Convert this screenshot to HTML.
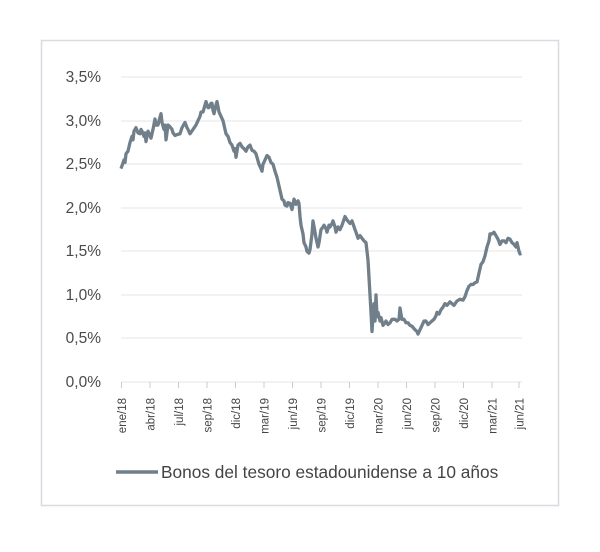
<!DOCTYPE html>
<html><head><meta charset="utf-8"><style>
body{margin:0;background:#fff;width:600px;height:547px;overflow:hidden;font-family:"Liberation Sans",sans-serif}
</style></head><body>
<svg width="600" height="547" xmlns="http://www.w3.org/2000/svg">
<rect x="41.5" y="40.5" width="517" height="465" fill="#fff" stroke="#d8dce1" stroke-width="1.5"/>
<g stroke="#e4e4e4" stroke-width="1">
<line x1="121" x2="522" y1="77" y2="77"/><line x1="121" x2="522" y1="121" y2="121"/>
<line x1="121" x2="522" y1="164" y2="164"/><line x1="121" x2="522" y1="208" y2="208"/>
<line x1="121" x2="522" y1="251" y2="251"/><line x1="121" x2="522" y1="295" y2="295"/>
<line x1="121" x2="522" y1="338" y2="338"/><line x1="121" x2="522" y1="382" y2="382"/>
</g>
<g fill="#4a4a4a" font-size="15.5" text-anchor="end">
<text x="101" y="82">3,5%</text><text x="101" y="126">3,0%</text><text x="101" y="169">2,5%</text>
<text x="101" y="213">2,0%</text><text x="101" y="256">1,5%</text><text x="101" y="300">1,0%</text>
<text x="101" y="343">0,5%</text><text x="101" y="387">0,0%</text>
</g>
<g stroke="#ccc" stroke-width="1">
<line x1="121.5" x2="121.5" y1="382" y2="388"/><line x1="150" x2="150" y1="382" y2="388"/>
<line x1="178.5" x2="178.5" y1="382" y2="388"/><line x1="207" x2="207" y1="382" y2="388"/>
<line x1="235.5" x2="235.5" y1="382" y2="388"/><line x1="264" x2="264" y1="382" y2="388"/>
<line x1="292.5" x2="292.5" y1="382" y2="388"/><line x1="321" x2="321" y1="382" y2="388"/>
<line x1="349.5" x2="349.5" y1="382" y2="388"/><line x1="378" x2="378" y1="382" y2="388"/>
<line x1="406.5" x2="406.5" y1="382" y2="388"/><line x1="435" x2="435" y1="382" y2="388"/>
<line x1="463.5" x2="463.5" y1="382" y2="388"/><line x1="492" x2="492" y1="382" y2="388"/>
<line x1="519" x2="519" y1="382" y2="388"/>
</g>
<g fill="#444" font-size="11.5" text-anchor="end">
<text transform="translate(126,398) rotate(-90)">ene/18</text>
<text transform="translate(154.5,398) rotate(-90)">abr/18</text>
<text transform="translate(183,398) rotate(-90)">jul/18</text>
<text transform="translate(211.5,398) rotate(-90)">sep/18</text>
<text transform="translate(240,398) rotate(-90)">dic/18</text>
<text transform="translate(268.5,398) rotate(-90)">mar/19</text>
<text transform="translate(297,398) rotate(-90)">jun/19</text>
<text transform="translate(325.5,398) rotate(-90)">sep/19</text>
<text transform="translate(354,398) rotate(-90)">dic/19</text>
<text transform="translate(382.5,398) rotate(-90)">mar/20</text>
<text transform="translate(411,398) rotate(-90)">jun/20</text>
<text transform="translate(439.5,398) rotate(-90)">sep/20</text>
<text transform="translate(468,398) rotate(-90)">dic/20</text>
<text transform="translate(496.5,398) rotate(-90)">mar/21</text>
<text transform="translate(523.5,398) rotate(-90)">jun/21</text>
</g>
<g transform="matrix(1,0,0,-87.1,0,382)">
<polyline fill="none" stroke="#707f8a" stroke-width="3.3" stroke-linejoin="round" vector-effect="non-scaling-stroke" points="121,2.45 122.5,2.5 124,2.55 125,2.52 126,2.62 128,2.65 130,2.75 132,2.82 133,2.78 134,2.88 136,2.92 138,2.86 140,2.85 141,2.9 142,2.88 144,2.82 145,2.86 146,2.76 148,2.88 150,2.83 151,2.8 153,2.9 155,3.02 156,2.95 158,2.95 159,3.0 161,3.08 162,2.98 164,2.9 165,2.95 166,2.78 168,2.95 170,2.93 172,2.9 173,2.86 175,2.83 177,2.84 180,2.85 182,2.92 185,2.98 187,2.92 188,2.9 190,2.85 193,2.9 196,2.95 198,3.0 200,3.05 201,3.1 203,3.1 205,3.18 206,3.22 208,3.15 209,3.15 211,3.2 212,3.2 213,3.12 214,3.08 216,3.18 217,3.22 219,3.1 221,3.05 223,3.0 224,2.95 226,2.85 228,2.82 230,2.75 232,2.72 234,2.65 235,2.68 236,2.58 238,2.72 240,2.74 242,2.7 244,2.68 246,2.65 248,2.7 250,2.72 252,2.66 254,2.65 256,2.62 257,2.58 259,2.5 261,2.45 262,2.42 263,2.5 265,2.55 267,2.6 269,2.58 271,2.52 273,2.5 275,2.42 277,2.35 279,2.25 281,2.15 282,2.1 284,2.08 285,2.03 287,2.02 288,2.06 290,2.05 292,1.98 294,2.1 296,2.04 298,2.08 299,2.05 300,1.9 301,1.8 303,1.7 304,1.6 306,1.55 307,1.5 309,1.48 310,1.52 312,1.7 313,1.85 315,1.72 316,1.65 318,1.55 319,1.6 321,1.75 323,1.78 324,1.8 326,1.76 327,1.72 329,1.8 330,1.78 332,1.82 333,1.85 335,1.78 336,1.72 338,1.78 340,1.75 342,1.8 345,1.9 347,1.86 350,1.82 352,1.85 355,1.75 356,1.72 358,1.65 360,1.68 362,1.65 364,1.62 366,1.6 367,1.5 368,1.4 369,1.2 370,1.0 371,0.8 372,0.58 373,0.75 374,0.9 375,0.7 376,1.0 377,0.75 378,0.8 380,0.7 381,0.74 383,0.65 385,0.68 386,0.7 388,0.66 390,0.68 392,0.72 395,0.72 397,0.7 399,0.72 400,0.85 401,0.78 402,0.72 404,0.72 406,0.68 408,0.68 410,0.65 412,0.64 415,0.6 417,0.58 418,0.55 420,0.6 422,0.65 424,0.7 426,0.7 428,0.66 430,0.68 432,0.7 434,0.72 436,0.76 437,0.8 439,0.78 441,0.83 443,0.86 445,0.9 447,0.88 450,0.92 452,0.9 454,0.88 457,0.93 460,0.95 463,0.94 465,0.98 467,1.05 469,1.1 471,1.12 473,1.12 475,1.14 477,1.15 479,1.25 481,1.35 483,1.38 485,1.45 487,1.55 489,1.62 490,1.7 492,1.7 494,1.72 496,1.68 498,1.64 500,1.58 502,1.62 504,1.62 506,1.6 508,1.65 510,1.64 512,1.6 514,1.58 516,1.55 517,1.6 519,1.5 520,1.47 521,1.48"/>
</g>
<line x1="116" x2="158" y1="472" y2="472" stroke="#707f8a" stroke-width="3.5"/>
<text x="161" y="478" fill="#444" font-size="17.3">Bonos del tesoro estadounidense a 10 años</text>
</svg>
</body></html>
